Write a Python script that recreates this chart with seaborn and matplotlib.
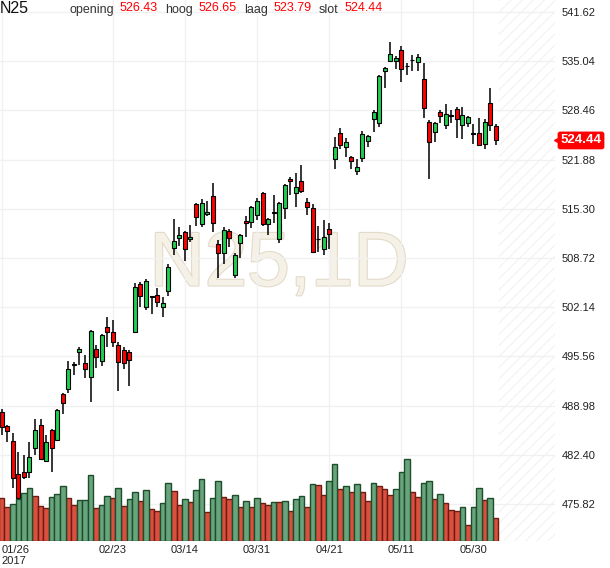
import numpy as np
import pandas as pd
import matplotlib
matplotlib.use('Agg')
import matplotlib.pyplot as plt
import matplotlib.patheffects as pe
import matplotlib.transforms as mtransforms
import seaborn as sns

# koersen N25 (dagcandles), 01/26 t/m begin juni 2017
opens = [488.12, 486.25, 484.25, 479.83, 480.10, 480.10, 483.31, 486.39, 481.57, 485.71,
         484.38, 490.53, 491.20, 494.45, 496.15, 494.68, 492.80, 496.55, 494.94, 499.49,
         498.82, 497.08, 496.42, 496.15, 498.82, 505.24, 502.17, 503.55, 503.77, 502.17,
         504.31, 510.06, 511.40, 512.20, 511.26, 515.94, 513.27, 514.60, 517.01, 510.59,
         509.39, 512.33, 506.45, 510.73, 513.67, 513.54, 514.47, 517.41, 513.27, 514.80,
         511.26, 515.41, 519.29, 517.41, 519.02, 516.21, 515.41, 511.25, 509.92, 512.60,
         521.96, 525.44, 523.56, 522.23, 520.35, 522.09, 524.37, 527.31, 526.78, 533.73,
         535.07, 535.07, 536.54, 534.40, 535.20, 534.93, 532.66, 526.91, 525.57, 528.25,
         526.51, 527.80, 528.65, 526.51, 526.78, 525.40, 525.44, 523.97, 529.45, 526.43]
highs = [488.53, 486.40, 485.32, 482.78, 482.37, 484.11, 487.19, 487.19, 485.05, 485.85,
         488.53, 490.67, 494.94, 494.81, 496.82, 495.75, 499.10, 497.08, 498.56, 500.83,
         500.43, 497.49, 496.82, 496.42, 505.37, 505.51, 505.91, 503.70, 504.71, 503.50,
         507.92, 513.94, 512.87, 512.35, 513.13, 516.05, 516.61, 516.34, 518.75, 511.13,
         512.87, 512.60, 509.39, 511.95, 514.34, 515.70, 516.75, 517.55, 514.07, 517.15,
         516.22, 518.62, 519.55, 520.09, 521.16, 516.75, 515.94, 513.00, 513.80, 513.40,
         524.90, 526.11, 524.77, 522.40, 521.96, 525.71, 525.15, 528.51, 533.20, 534.25,
         537.61, 535.73, 537.07, 534.80, 535.87, 536.00, 534.80, 527.18, 526.91, 528.51,
         529.32, 528.51, 528.92, 528.92, 527.70, 526.64, 527.44, 527.31, 531.46, 526.65]
lows = [485.05, 484.11, 477.96, 476.35, 479.16, 479.30, 482.37, 481.70, 481.44, 480.10,
        484.25, 487.85, 490.67, 493.07, 494.41, 492.67, 489.46, 494.01, 494.28, 496.82,
        496.82, 490.93, 493.87, 491.60, 498.69, 502.17, 501.77, 501.23, 502.17, 500.83,
        503.64, 509.12, 510.33, 508.32, 510.86, 513.00, 512.87, 514.34, 512.20, 506.04,
        507.92, 510.19, 506.04, 508.72, 511.53, 512.73, 513.80, 513.00, 511.80, 513.40,
        510.73, 513.94, 517.15, 515.54, 517.41, 514.47, 509.39, 509.52, 509.12, 509.92,
        520.62, 523.30, 522.23, 520.62, 519.82, 521.56, 523.56, 525.57, 526.24, 531.46,
        534.93, 533.99, 532.26, 533.20, 533.73, 533.73, 527.44, 519.29, 524.23, 526.78,
        525.97, 526.78, 524.77, 524.63, 526.24, 523.97, 523.70, 523.30, 525.71, 523.79]
closes = [486.12, 485.58, 479.30, 476.62, 479.43, 482.11, 485.71, 481.84, 484.11, 483.31,
          488.39, 489.33, 493.87, 494.50, 496.55, 493.87, 498.96, 495.48, 498.42, 498.82,
          497.49, 494.81, 494.68, 495.08, 504.84, 503.64, 505.64, 503.60, 502.83, 502.70,
          507.52, 511.00, 511.80, 509.92, 511.53, 514.20, 516.08, 514.88, 513.40, 509.39,
          512.47, 511.40, 509.12, 511.80, 513.40, 515.54, 516.34, 513.27, 513.94, 514.85,
          516.08, 518.48, 519.02, 518.22, 517.68, 515.54, 509.52, 511.20, 511.53, 511.93,
          523.56, 523.83, 524.23, 521.69, 520.89, 525.30, 525.04, 528.25, 533.06, 534.13,
          536.00, 535.47, 533.99, 534.35, 535.25, 535.60, 528.78, 524.23, 526.78, 527.71,
          527.98, 527.75, 527.31, 527.85, 527.58, 525.35, 523.83, 526.91, 526.51, 524.44]

# volume (relatieve eenheden) en kleur van de volumebalk (g = groen, r = rood)
volume = [42.7, 33.7, 36.4, 41.7, 47.4, 52.4, 44.4, 34.4, 32.4, 43.4,
          46.4, 54.4, 42.4, 35.4, 40.4, 40.4, 65.4, 32.4, 35.4, 44.4,
          42.4, 52.4, 34.4, 41.4, 48.4, 39.4, 50.4, 31.4, 29.4, 37.4,
          57.4, 49.4, 35.4, 41.4, 38.4, 50.4, 61.4, 28.4, 42.4, 59.4,
          43.4, 41.4, 45.4, 33.4, 39.4, 33.4, 42.4, 37.4, 35.4, 38.4,
          38.4, 39.4, 29.4, 41.4, 44.4, 33.4, 56.4, 55.4, 45.4, 59.4,
          76.4, 51.4, 54.4, 48.4, 56.4, 48.4, 39.4, 57.4, 54.4, 51.4,
          45.4, 51.4, 68.4, 81.4, 48.4, 43.4, 57.4, 59.4, 41.4, 46.4,
          37.4, 30.4, 29.4, 33.4, 15.4, 33.4, 52.4, 40.4, 42.4, 22.4]
vol_color = list('rrggggrrrg' 'ggrrgggrgg' 'rgrggrgrrg'
                 'grrgrggrgg' 'rrgrgrgrrg' 'rgrggrgrrg'
                 'grgrgrrgrr' 'rgggrrggrg' 'rrrgrggrgr')

price_ticks = [475.82, 482.40, 488.98, 495.56, 502.14, 508.72, 515.30,
               521.88, 528.46, 535.04, 541.62]
date_pos = [0, 20, 33, 46, 59, 72, 85]
date_labels = ['01/26\n2017', '02/23', '03/14', '03/31', '04/21', '05/11', '05/30']

df = pd.DataFrame({'idx': np.arange(len(opens)), 'open': opens, 'high': highs,
                   'low': lows, 'close': closes, 'volume': volume,
                   'vdir': ['up' if c == 'g' else 'down' for c in vol_color]})

sns.set_theme(style='white')
plt.rcParams['font.family'] = ['Liberation Sans', 'DejaVu Sans']
plt.rcParams['hatch.linewidth'] = 0.7

W, H = 610, 568
fig = plt.figure(figsize=(W / 100, H / 100), dpi=100)
ax = fig.add_axes([0, 27.3 / H, 555 / W, 540.7 / H])
ax2 = ax.twinx()

# watermerk
ax.text(0.503, 0.508, 'N25,1D', transform=ax.transAxes, ha='center', va='center',
        fontsize=55, color='#f5f1e7', zorder=0.5,
        path_effects=[pe.withStroke(linewidth=1.6, foreground='#e3dbca')])

# gearceerd toekomstgebied
ax.axvspan(89.6, 99.69, facecolor='none', edgecolor='#f0f0f0', hatch='///',
           linewidth=0, zorder=0.6)

# candles
up = df['close'] >= df['open']
body_low = np.minimum(df['open'], df['close'])
body_h = np.maximum((df['close'] - df['open']).abs(), 0.04)
ax.vlines(df['idx'], df['low'], df['high'], color='black', lw=1.1, zorder=2)
ax.bar(df['idx'], body_h, bottom=body_low, width=0.72,
       color=np.where(up, '#1fcf50', '#ff0000'), edgecolor='black',
       linewidth=0.8, zorder=3)

# volume
sns.barplot(data=df, x='idx', y='volume', hue='vdir', native_scale=True,
            palette={'up': '#68a57d', 'down': '#d9503f'}, dodge=False, width=1.0,
            errorbar=None, legend=False, ax=ax2, linewidth=1.0, saturation=1)
for p in ax2.patches:
    fc = p.get_facecolor()
    p.set_edgecolor('#1e4d2c' if fc[1] > fc[0] else '#6e1b12')
ax2.set_ylim(0, 540.7)
ax2.set_yticks([])
ax2.set_xlabel('')
ax2.set_ylabel('')
ax2.grid(False)
for s in ax2.spines.values():
    s.set_visible(False)

# assen
ax.set_xlim(-0.31, 99.69)
ax.set_ylim(470.91, 543.225)
ax.set_yticks(price_ticks)
ax.set_yticklabels([f'{v:.2f}' for v in price_ticks])
ax.yaxis.tick_right()
ax.set_xticks(date_pos)
ax.set_xticklabels(date_labels)
ax.get_xticklabels()[0].set_ha('left')
ax.tick_params(axis='y', length=0, pad=4.5, labelsize=8, labelcolor='#222222')
ax.tick_params(axis='x', length=0, pad=3, labelsize=8, labelcolor='#222222')
ax.grid(True, color='#f1f1f1', lw=1)
ax.set_axisbelow(True)
for s in ax.spines.values():
    s.set_visible(False)

# laatste koers label
blend = mtransforms.blended_transform_factory(ax.transAxes, ax.transData)
ax.text(560.5 / 555, closes[-1], f'{closes[-1]:.2f}', transform=blend, ha='left',
        va='center', color='white', fontweight='bold', fontsize=9.5, clip_on=False,
        bbox=dict(boxstyle='round,pad=0.22,rounding_size=0.2', fc='#ff0000', ec='none'))
ax.plot([556.5 / 555], [closes[-1]], marker='<', color='#ff0000', markersize=5,
        transform=blend, clip_on=False)

# kop
def px(x, y):
    return x / W, 1 - y / H

fig.text(*px(0, 13.3), 'N25', fontsize=11.5, color='#111111', va='baseline')
head = [('opening', 69, opens[-1], 120), ('hoog', 165, highs[-1], 199),
        ('laag', 244, lows[-1], 274), ('slot', 319, closes[-1], 345)]
for lab, xl, val, xv in head:
    fig.text(*px(xl, 13.3), lab, fontsize=9, color='#333333', va='baseline')
    fig.text(*px(xv, 11), f'{val:.2f}', fontsize=9, color='#ff0000', va='baseline')

fig.savefig('out.png', dpi=100)
